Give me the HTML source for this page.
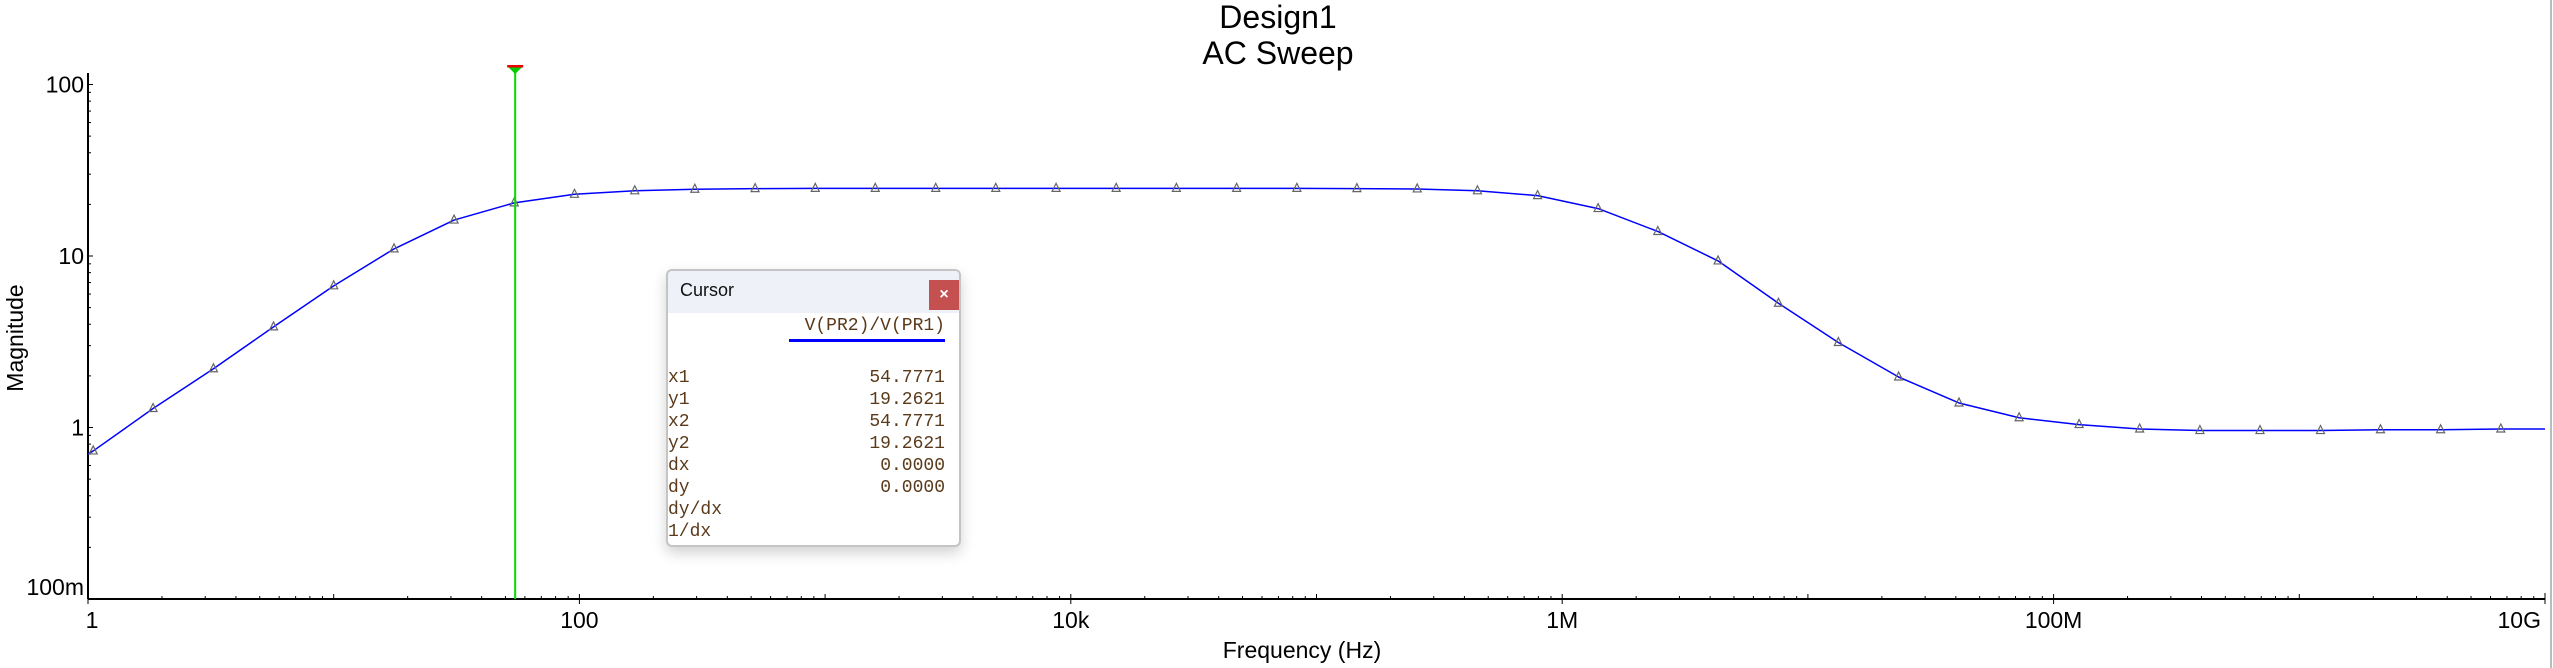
<!DOCTYPE html>
<html><head><meta charset="utf-8"><style>
html,body{margin:0;padding:0;background:#fff;}
body{width:2553px;height:668px;overflow:hidden;position:relative;font-family:"Liberation Sans",sans-serif;}
svg{position:absolute;left:0;top:0;}
#cursor-box{position:absolute;left:666px;top:269px;width:291px;height:274px;border:2px solid #c4c4c4;border-radius:6px;background:#fff;box-shadow:0 6px 14px rgba(0,0,0,0.18);overflow:hidden;}
#cursor-head{height:42px;background:#eef2f8;position:relative;}
#cursor-title{position:absolute;left:12px;top:9px;font-size:18px;color:#111;font-family:"Liberation Sans",sans-serif;}
#close-btn{position:absolute;right:0;top:9px;width:30px;height:30px;background:#c45050;color:#fff;font-size:16px;font-weight:bold;text-align:center;line-height:29px;}
.mono{font-family:"Liberation Mono",monospace;font-size:18px;color:#5a3a1a;}
#series-name{position:absolute;right:14px;top:45px;}
#series-line{position:absolute;left:121px;right:14px;top:68px;height:3px;background:#0000ff;}
.row{position:absolute;left:0;right:14px;height:22px;}
.row .l{position:absolute;left:0;}
.row .v{position:absolute;right:0;}
</style></head><body>
<svg id="chart" width="2553" height="668"></svg>
<div id="cursor-box">
 <div id="cursor-head">
  <div id="cursor-title">Cursor</div>
  <div id="close-btn">×</div>
 </div>
 <div id="series-name" class="mono">V(PR2)/V(PR1)</div>
 <div id="series-line"></div>
 <div class="row mono" style="top:97px"><span class="l">x1</span><span class="v">54.7771</span></div>
 <div class="row mono" style="top:119px"><span class="l">y1</span><span class="v">19.2621</span></div>
 <div class="row mono" style="top:141px"><span class="l">x2</span><span class="v">54.7771</span></div>
 <div class="row mono" style="top:163px"><span class="l">y2</span><span class="v">19.2621</span></div>
 <div class="row mono" style="top:185px"><span class="l">dx</span><span class="v">0.0000</span></div>
 <div class="row mono" style="top:207px"><span class="l">dy</span><span class="v">0.0000</span></div>
 <div class="row mono" style="top:229px"><span class="l">dy/dx</span></div>
 <div class="row mono" style="top:251px"><span class="l">1/dx</span></div>
</div>
<script>
const freqs=[1.05,1.84,3.24,5.69,10,17.6,30.9,54.3,95.5,168,295,519,912,1600,2820,4950,8710,15300,26900,47300,83200,146000,257000,452000,794000,1400000,2450000,4310000,7590000,13300000,23400000,41200000,72400000,127000000,224000000,394000000,692000000,1220000000,2140000000,3760000000,6610000000];
const mags=[0.73,1.29,2.2,3.86,6.7,11.0,16.2,20.4,22.9,24.0,24.5,24.7,24.8,24.8,24.8,24.8,24.8,24.8,24.8,24.8,24.8,24.7,24.6,24.0,22.5,18.9,13.9,9.36,5.3,3.13,1.97,1.39,1.14,1.04,0.98,0.96,0.96,0.96,0.97,0.97,0.98];
const xTickVals=[1,100,1e4,1e6,1e8,1e10];
const xTickLabels=["1","100","10k","1M","100M","10G"];
const yTickVals=[0.1,1,10,100];
const yTickLabels=["100m","1","10","100"];
const cursorX=54.7771;

const X0=88,X1=2545,Y0=599,YT=73;
const DEC_X=(X1-X0)/10, DEC_Y=171.5;
const xs=f=>X0+Math.log10(f)*DEC_X;
const ys=v=>Y0-(Math.log10(v)+1)*DEC_Y;
const NS="http://www.w3.org/2000/svg";
const svg=document.getElementById('chart');
function mk(t,a){const e=document.createElementNS(NS,t);for(const k in a)e.setAttribute(k,a[k]);svg.appendChild(e);return e;}

let t=mk('text',{x:1278,y:28,'font-size':32,'text-anchor':'middle',fill:'#000'});t.textContent='Design1';


t=mk('text',{x:1278,y:64,'font-size':32,'text-anchor':'middle',fill:'#000'});t.textContent='AC Sweep';



let ax=mk('line',{x1:X0,y1:YT,x2:X0,y2:Y0,stroke:'#000','stroke-width':2});


ax=mk('line',{x1:X0,y1:Y0,x2:X1,y2:Y0,stroke:'#000','stroke-width':2});


mk('line',{x1:2551,y1:0,x2:2551,y2:668,stroke:'#bbb','stroke-width':2});

for(let d=-1;d<=2;d++){for(let m=1;m<=9;m++){const v=m*Math.pow(10,d);const y=ys(v);if(y<YT)continue;
 mk('line',{x1:X0,y1:y,x2:X0+(m===1?5:3),y2:y,stroke:'#000','stroke-width':1});}}
yTickVals.forEach((v,i)=>{const e=mk('text',{x:X0-4,y:ys(v)+(i===0?-4:8),'font-size':23,'text-anchor':'end',fill:'#000'});e.textContent=yTickLabels[i];
 
 });
for(let d=0;d<=9;d++){for(let m=1;m<=9;m++){const f=m*Math.pow(10,d);const x=xs(f);
 mk('line',{x1:x,y1:Y0,x2:x,y2:Y0-(m===1?5:3),stroke:'#000','stroke-width':1});}}
mk('line',{x1:X1,y1:Y0,x2:X1,y2:Y0-6,stroke:'#000','stroke-width':1});
xTickVals.forEach((v,i)=>{const x=xs(v);mk('line',{x1:x,y1:Y0,x2:x,y2:Y0+5,stroke:'#000','stroke-width':1});
 const e=mk('text',{x:i===5?x-4:x+(i===0?4:0),y:628,'font-size':23,'text-anchor':i===5?'end':'middle',fill:'#000'});e.textContent=xTickLabels[i];
 
 });
t=mk('text',{x:1302,y:658,'font-size':23,'text-anchor':'middle',fill:'#000'});t.textContent='Frequency (Hz)';


t=mk('text',{x:0,y:0,'font-size':23,'text-anchor':'middle',fill:'#000',transform:'translate(23,338) rotate(-90)'});t.textContent='Magnitude';



let pts=[[X0,ys(0.7)]].concat(freqs.map((f,i)=>[xs(f),ys(mags[i])]));pts.push([X1,ys(mags[mags.length-1])]);
const line=mk('polyline',{points:pts.map(p=>p.join(',')).join(' '),fill:'none',stroke:'#0000ff','stroke-width':1.5,'stroke-linejoin':'round'});


freqs.forEach((f,i)=>{const x=xs(f),y=ys(mags[i]);
 const m=mk('polygon',{points:`${x},${y-5} ${x-4},${y+3} ${x+4},${y+3}`,fill:'none',stroke:'#666','stroke-width':1.2});
 
 });

const cx=xs(cursorX);
const cl=mk('line',{x1:cx,y1:70,x2:cx,y2:Y0,stroke:'#00dd00','stroke-width':2});


const ch=mk('polygon',{points:`${cx-7},${67} ${cx+7},${67} ${cx},${74}`,fill:'#00cc00'});


mk('rect',{x:cx-8,y:65,width:16,height:2.5,fill:'#ee0000'});
</script>
</body></html>
